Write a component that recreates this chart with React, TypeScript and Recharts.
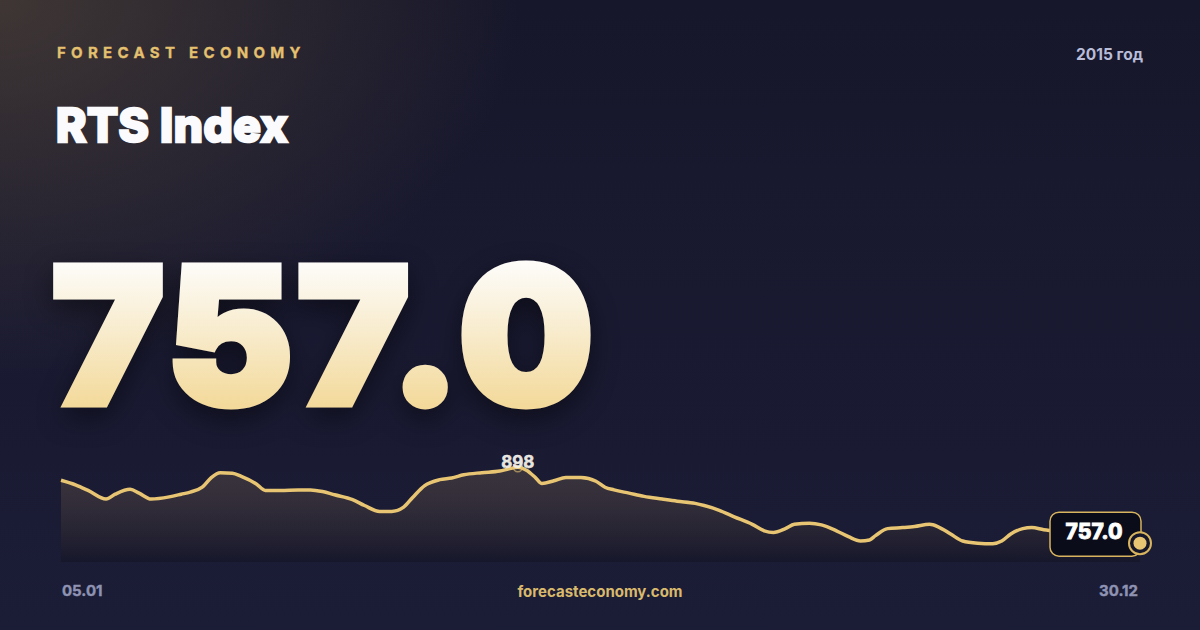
import React from 'react'
import { AreaChart, Area, XAxis, YAxis } from 'recharts'

// RTS index, 2015
const DATES = [
  '05.01', '10.01', '14.01', '20.01', '23.01', '28.01', '31.01', '04.02', '10.02', '14.02',
  '17.02', '21.02', '24.02', '27.02', '03.03', '06.03', '11.03', '14.03', '19.03', '25.03',
  '29.03', '02.04', '06.04', '12.04', '16.04', '21.04', '25.04', '29.04', '02.05', '06.05',
  '11.05', '15.05', '19.05', '25.05', '31.05', '03.06', '06.06', '09.06', '12.06', '14.06',
  '18.06', '22.06', '27.06', '02.07', '05.07', '08.07', '13.07', '18.07', '24.07', '29.07',
  '04.08', '07.08', '12.08', '17.08', '23.08', '27.08', '30.08', '03.09', '06.09', '11.09',
  '15.09', '20.09', '24.09', '28.09', '01.10', '03.10', '07.10', '12.10', '16.10', '21.10',
  '24.10', '28.10', '01.11', '06.11', '11.11', '14.11', '17.11', '21.11', '24.11', '28.11',
  '06.12', '15.12', '23.12', '30.12',
]
const VALUES = [
  874, 865, 855, 839, 848, 857, 850, 839, 843, 848,
  852, 861, 879, 888, 887, 881, 867, 855, 855, 856,
  856, 853, 847, 838, 827, 816, 816, 824, 842, 864,
  875, 878, 884, 888, 891, 895, 898, 892, 878, 868,
  873, 879, 879, 872, 861, 856, 850, 844, 839, 835,
  831, 827, 818, 806, 792, 780, 777, 784, 792, 794,
  791, 780, 769, 761, 763, 771, 784, 786, 788, 792,
  787, 774, 761, 757, 756, 761, 774, 784, 786, 782,
  778, 770, 762, 757,
]
const Y_TICKS = [722, 932]

const BRAND = 'FORECAST ECONOMY'
const TITLE = 'RTS Index'
const YEAR_LABEL = '2015 год'
const SITE = 'forecasteconomy.com'

const GOLD = '#e8c572'
const FONT = "Inter, 'Noto Sans', sans-serif"
const W = 1200
const H = 630
const MARGIN = { top: 449, right: 60, bottom: 38, left: 61 }
const PLOT_BOTTOM = H - MARGIN.bottom - 30

function dayOfYear(ddmm: string) {
  const [d, m] = ddmm.split('.').map(Number)
  return Math.round((Date.UTC(2015, m - 1, d) - Date.UTC(2015, 0, 1)) / 86400000) + 1
}

const data = DATES.map((date, i) => ({ date, day: dayOfYear(date), value: VALUES[i] }))
const firstDay = data[0].day
const lastDay = data[data.length - 1].day
const peakIndex = VALUES.indexOf(Math.max(...VALUES))
const lastIndex = VALUES.length - 1
const lastText = VALUES[lastIndex].toFixed(1)

function renderDot(props: any) {
  const { cx, cy, index } = props
  if (index === peakIndex) {
    return (
      <g key="peak">
        <circle cx={cx} cy={cy} r={4.5} fill="none" stroke={GOLD} strokeOpacity={0.6} strokeWidth={1.5} />
        <text x={cx} y={cy + 1} textAnchor="middle" fill="#f4f1ea" fillOpacity={0.95} stroke="#f4f1ea"
          strokeOpacity={0.9} strokeWidth={0.6}
          style={{ fontFamily: FONT, fontSize: 17, fontWeight: 700 }}>
          {Math.round(VALUES[peakIndex])}
        </text>
      </g>
    )
  }
  if (index === lastIndex) {
    return (
      <g key="last">
        <rect x={cx - 90} y={cy - 31} width={91} height={44} rx={9} fill="#0b0c19" stroke="#d8b45e" strokeWidth={1.5} />
        <text x={cx - 46} y={cy - 4} textAnchor="middle" fill="#ffffff" stroke="#ffffff" strokeWidth={0.8}
          style={{ fontFamily: FONT, fontSize: 21, fontWeight: 800 }}>
          {lastText}
        </text>
        <circle cx={cx} cy={cy} r={11} fill="#15162a" stroke="#d8b45e" strokeWidth={2} />
        <circle cx={cx} cy={cy} r={6.5} fill={GOLD} />
      </g>
    )
  }
  return <g key={`d${index}`} />
}

function YTick(props: any) {
  const { y, payload } = props
  const top = payload.value === Y_TICKS[1]
  return (
    <text x={MARGIN.left + 9} y={top ? y + 17 : y - 9} fill="#8e92b0"
      style={{ fontFamily: FONT, fontSize: 13.5, fontWeight: 700 }}>
      {payload.value}
    </text>
  )
}

function XTick(props: any) {
  const { x, payload } = props
  const first = payload.value === firstDay
  const label = first ? DATES[0] : DATES[DATES.length - 1]
  return (
    <text x={first ? x + 1 : x - 2} y={PLOT_BOTTOM + 34} textAnchor={first ? 'start' : 'end'} fill="#8f93b3"
      stroke="#8f93b3" strokeWidth={0.4}
      style={{ fontFamily: FONT, fontSize: 15, fontWeight: 700 }}>
      {label}
    </text>
  )
}

export default function App() {
  return (
    <div
      style={{
        position: 'relative',
        width: W,
        height: H,
        overflow: 'hidden',
        fontFamily: FONT,
        background:
          'radial-gradient(ellipse 720px 520px at 0% 0%, rgba(96,80,60,0.55) 0%, rgba(96,80,60,0) 72%), linear-gradient(180deg, #17172b 0%, #1b1c36 100%)',
      }}
    >
      <style>{'body{margin:0}'}</style>

      <div style={{ position: 'absolute', left: 57, top: 45, fontSize: 15, lineHeight: 1, fontWeight: 700, letterSpacing: 5.3, color: '#e4c06f', WebkitTextStroke: '0.3px #e4c06f' }}>
        {BRAND}
      </div>
      <div style={{ position: 'absolute', right: 57, top: 47, fontSize: 15.5, lineHeight: 1, fontWeight: 700, color: '#b9bdd8' }}>
        {YEAR_LABEL}
      </div>
      <div style={{ position: 'absolute', left: 56, top: 102, fontSize: 46, lineHeight: 1, fontWeight: 800, letterSpacing: 0.5, color: '#fbfbfd', WebkitTextStroke: '2.5px #fbfbfd' }}>
        {TITLE}
      </div>

      <svg width={W} height={450} style={{ position: 'absolute', left: 0, top: 0, overflow: 'visible', filter: 'drop-shadow(0 10px 14px rgba(0,0,0,0.45))' }}>
        <defs>
          <linearGradient id="bigGold" gradientUnits="userSpaceOnUse" x1="0" y1="263" x2="0" y2="407">
            <stop offset="0%" stopColor="#fdfcf9" />
            <stop offset="50%" stopColor="#f8ebcb" />
            <stop offset="100%" stopColor="#f3d99a" />
          </linearGradient>
        </defs>
        <text
          x={51.5}
          y={403.5}
          fill="url(#bigGold)"
          stroke="url(#bigGold)"
          strokeWidth={7}
          strokeLinejoin="miter"
          letterSpacing={3.8}
          style={{ fontFamily: FONT, fontSize: 190, fontWeight: 900 }}
        >
          {lastText}
        </text>
      </svg>

      <div style={{ position: 'absolute', left: 0, top: 0 }}>
        <AreaChart width={W} height={H} data={data} margin={MARGIN}>
          <defs>
            <linearGradient id="fillGold" x1="0" y1="0" x2="0" y2="1">
              <stop offset="0%" stopColor="#d9b06c" stopOpacity={0.28} />
              <stop offset="100%" stopColor="#0c0b12" stopOpacity={0.45} />
            </linearGradient>
          </defs>
          <XAxis
            dataKey="day"
            type="number"
            domain={[firstDay, lastDay]}
            ticks={[firstDay, lastDay]}
            axisLine={false}
            tickLine={false}
            height={30}
            tick={<XTick />}
          />
          <YAxis
            domain={Y_TICKS}
            ticks={Y_TICKS}
            mirror
            width={0}
            axisLine={false}
            tickLine={false}
            tick={<YTick />}
          />
          <Area
            type="monotone"
            dataKey="value"
            stroke={GOLD}
            strokeWidth={3.5}
            fill="url(#fillGold)"
            dot={renderDot}
            activeDot={false}
            isAnimationActive={false}
          />
        </AreaChart>
      </div>

      <div style={{ position: 'absolute', left: 0, width: W, top: 584, textAlign: 'center', fontSize: 15, lineHeight: 1, fontWeight: 700, color: '#d9b96c' }}>
        {SITE}
      </div>
    </div>
  )
}
